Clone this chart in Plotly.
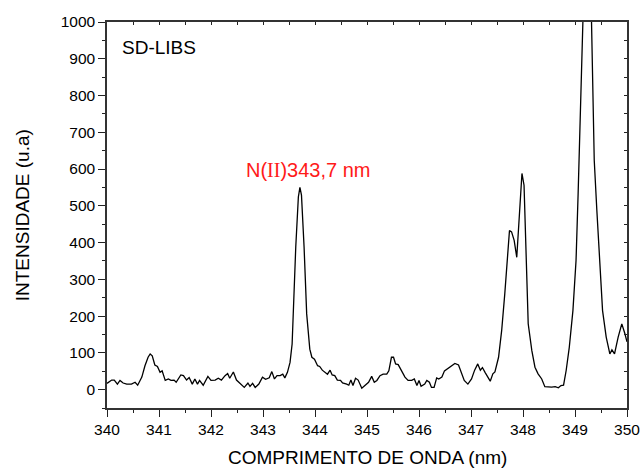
import plotly.graph_objects as go

wavelength = [340.00, 340.09, 340.14, 340.20, 340.25, 340.31, 340.38, 340.47, 340.54, 340.59,
              340.67, 340.73, 340.79, 340.83, 340.87, 340.92, 340.97, 341.02, 341.06, 341.12,
              341.18, 341.23, 341.29, 341.33, 341.42, 341.47, 341.53, 341.58, 341.64, 341.69,
              341.74, 341.78, 341.85, 341.94, 342.00, 342.08, 342.14, 342.20, 342.27, 342.32,
              342.36, 342.43, 342.49, 342.56, 342.64, 342.71, 342.75, 342.80, 342.85, 342.92,
              342.99, 343.05, 343.12, 343.17, 343.22, 343.27, 343.33, 343.38, 343.42, 343.47,
              343.52, 343.56, 343.58, 343.63, 343.68, 343.71, 343.74, 343.79, 343.84, 343.90,
              343.94, 343.99, 344.05, 344.09, 344.14, 344.19, 344.24, 344.29, 344.33, 344.38,
              344.43, 344.49, 344.53, 344.61, 344.65, 344.69, 344.73, 344.78, 344.83, 344.90,
              344.96, 345.03, 345.09, 345.14, 345.19, 345.25, 345.31, 345.38, 345.42, 345.47,
              345.51, 345.55, 345.60, 345.67, 345.73, 345.79, 345.86, 345.91, 345.96, 346.00,
              346.04, 346.11, 346.15, 346.20, 346.24, 346.29, 346.34, 346.38, 346.44, 346.49,
              346.57, 346.64, 346.69, 346.76, 346.82, 346.87, 346.94, 347.01, 347.07, 347.13,
              347.18, 347.22, 347.27, 347.37, 347.42, 347.46, 347.53, 347.59, 347.65, 347.70,
              347.74, 347.78, 347.83, 347.88, 347.93, 347.98, 348.02, 348.06, 348.10, 348.17,
              348.23, 348.29, 348.36, 348.42, 348.49, 348.55, 348.62, 348.68, 348.73, 348.78,
              348.83, 348.89, 348.96, 349.02, 349.06, 349.11, 349.17, 349.23, 349.29, 349.33,
              349.37, 349.42, 349.47, 349.53, 349.60, 349.67, 349.71, 349.76, 349.83, 349.90,
              349.96, 350.00]

intensity = [17, 26, 26, 15, 25, 18, 15, 15, 20, 12,
             34, 65, 88, 97, 92, 67, 63, 47, 51, 25,
             29, 25, 26, 20, 40, 38, 26, 33, 15, 29,
             15, 25, 12, 36, 25, 26, 31, 26, 38, 44,
             31, 48, 26, 17, 6, 18, 9, 17, 6, 15,
             34, 28, 32, 49, 29, 38, 38, 42, 32, 47,
             74, 124, 206, 388, 524, 550, 529, 388, 206, 110,
             88, 83, 65, 63, 53, 47, 42, 53, 40, 38,
             26, 25, 18, 15, 12, 26, 11, 31, 26, 4,
             12, 20, 36, 20, 25, 38, 42, 42, 51, 88,
             88, 70, 68, 50, 34, 25, 25, 29, 11, 25,
             9, 15, 25, 20, 6, 6, 32, 29, 34, 51,
             59, 68, 71, 67, 42, 25, 15, 29, 53, 70,
             53, 60, 47, 23, 43, 48, 88, 161, 261, 351,
             433, 429, 406, 360, 488, 588, 556, 370, 179, 106,
             61, 43, 29, 8, 7, 7, 8, 5, 11, 12,
             52, 115, 215, 351, 533, 820, 1150, 1400, 1200, 860,
             624, 488, 351, 215, 143, 97, 108, 97, 143, 179,
             152, 130]

x_range = [340, 350]
y_range = [-50, 1000]
x_ticks = [340, 341, 342, 343, 344, 345, 346, 347, 348, 349, 350]
y_ticks = [0, 100, 200, 300, 400, 500, 600, 700, 800, 900, 1000]

font = "Liberation Sans, Arial, sans-serif"

fig = go.Figure()
fig.add_trace(go.Scatter(x=wavelength, y=intensity, mode="lines",
                         line=dict(color="black", width=1.3),
                         showlegend=False, hoverinfo="skip"))
fig.add_trace(go.Scatter(x=[None], y=[None], xaxis="x2", yaxis="y2",
                         showlegend=False, hoverinfo="skip"))

fig.update_layout(
    width=643, height=468,
    margin=dict(l=107, r=16, t=22, b=60, autoexpand=False),
    paper_bgcolor="white", plot_bgcolor="white",
    font=dict(family=font, color="black", size=15),
    xaxis=dict(range=x_range, tickvals=x_ticks, ticks="outside", ticklen=7,
               tickwidth=1.2, tickcolor="#222", automargin=False,
               showline=True, linecolor="#333", linewidth=1.5, showgrid=False,
               zeroline=False, tickfont=dict(size=15.5, family=font),
               minor=dict(dtick=0.5, ticks="outside", ticklen=3, tickcolor="#222", showgrid=False)),
    yaxis=dict(range=y_range, tickvals=y_ticks, ticks="outside", ticklen=7,
               tickwidth=1.2, tickcolor="#222", automargin=False,
               showline=True, linecolor="#333", linewidth=1.5, showgrid=False,
               zeroline=False, tickfont=dict(size=15.5, family=font),
               minor=dict(dtick=50, tick0=0, ticks="outside", ticklen=3, tickcolor="#222", showgrid=False)),
    xaxis2=dict(range=x_range, overlaying="x", side="top", anchor="y", automargin=False,
                dtick=0.5, tick0=340, ticks="inside", ticklen=3, tickcolor="#222",
                showticklabels=False, showline=True, linecolor="#333", linewidth=1.5,
                showgrid=False, zeroline=False),
    yaxis2=dict(range=y_range, overlaying="y", side="right", anchor="x", automargin=False,
                dtick=50, tick0=0, ticks="inside", ticklen=3, tickcolor="#222",
                showticklabels=False, showline=True, linecolor="#333", linewidth=1.5,
                showgrid=False, zeroline=False),
)

# axis titles
fig.add_annotation(x=0.5, y=-0.127, xref="paper", yref="paper", xanchor="center", yanchor="middle",
                   text="COMPRIMENTO DE ONDA (nm)", showarrow=False,
                   font=dict(size=19, family=font, color="black"))
fig.add_annotation(x=-0.163, y=0.5, xref="paper", yref="paper", xanchor="center", yanchor="middle",
                   text="INTENSIDADE (u.a)", showarrow=False, textangle=-90,
                   font=dict(size=19, family=font, color="black"))

fig.add_annotation(x=0.025, y=0.935, xref="paper", yref="paper", xanchor="left", yanchor="middle",
                   text="SD-LIBS", showarrow=False, font=dict(size=19, family=font, color="black"))
fig.add_annotation(x=343.87, y=598, xref="x", yref="y", xanchor="center", yanchor="middle",
                   text="N(<span style='font-family:Liberation Serif'>II</span>)343,7 nm",
                   showarrow=False, font=dict(size=20, family=font, color="#ff1a1a"))

fig.write_html("out.html")
